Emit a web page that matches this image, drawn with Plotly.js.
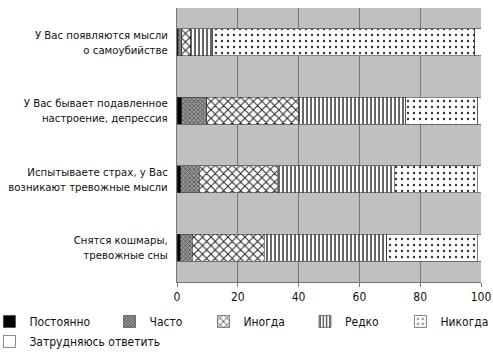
<!DOCTYPE html>
<html>
<head>
<meta charset="utf-8">
<script src="https://cdn.plot.ly/plotly-3.0.1.min.js"></script>
<style>html,body{margin:0;padding:0;background:#fff;}#chart{width:493px;height:355px;}</style>
</head>
<body>
<div id="chart"></div>
<script>
const categories = [
  "У Вас появляются мысли<br>о самоубийстве",
  "У Вас бывает подавленное<br>настроение, депрессия",
  "Испытываете страх, у Вас<br>возникают тревожные мысли",
  "Снятся кошмары,<br>тревожные сны"
];
const seriesNames = ["Постоянно", "Часто", "Иногда", "Редко", "Никогда", "Затрудняюсь ответить"];
const postoyanno = [0.4, 1.5, 1.3, 1.0];
const chasto     = [1.2, 8.3, 6.0, 4.0];
const inogda     = [2.9, 30.2, 25.7, 23.7];
const redko      = [7.3, 35.2, 38.5, 40.3];
const nikogda    = [86.2, 23.8, 27.2, 29.7];
const zatrud     = [2.0, 1.0, 1.3, 1.3];
const xTicks = [0, 20, 40, 60, 80, 100];

const values = [postoyanno, chasto, inogda, redko, nikogda, zatrud];
const styles = [
  {color: "#000000", pattern: {shape: ""}},
  {color: "#ffffff", pattern: {shape: "x", fgcolor: "#444", bgcolor: "#9a9a9a", size: 3, solidity: 0.4}},
  {color: "#ffffff", pattern: {shape: "x", fgcolor: "#222", bgcolor: "#fff", size: 6, solidity: 0.3}},
  {color: "#ffffff", pattern: {shape: "|", fgcolor: "#000", bgcolor: "#fff", size: 4, solidity: 0.3}},
  {color: "#ffffff", pattern: {shape: ".", fgcolor: "#333", bgcolor: "#fff", size: 6, solidity: 0.12}},
  {color: "#ffffff", pattern: {shape: ""}}
];
const legendIds = ["legend", "legend2", "legend3", "legend4", "legend5", "legend6"];

const traces = seriesNames.map((name, i) => ({
  type: "bar",
  orientation: "h",
  name: name,
  y: categories,
  x: values[i],
  width: 0.4,
  legend: legendIds[i],
  marker: {
    color: styles[i].color,
    pattern: styles[i].pattern,
    line: {color: "#333", width: 0.6}
  }
}));

const fontFam = "'Liberation Sans Narrow', 'Arial Narrow', 'DejaVu Sans Condensed', sans-serif";
const legFont = {family: fontFam, size: 12, color: "#111"};

function leg(x, y) {
  return {orientation: "h", x: x, xanchor: "left", y: y, yanchor: "top",
          font: legFont, bgcolor: "rgba(0,0,0,0)", itemwidth: 30};
}

const row1 = -0.091, row2 = -0.164;

const layout = {
  width: 493,
  height: 355,
  barmode: "stack",
  paper_bgcolor: "#ffffff",
  plot_bgcolor: "#c0c0c0",
  font: {family: fontFam, size: 12, color: "#111"},
  margin: {l: 177, r: 12, t: 8, b: 73, autoexpand: false},
  showlegend: true,
  legend:  leg(-0.617, row1),
  legend2: leg(-0.222, row1),
  legend3: leg(0.087, row1),
  legend4: leg(0.421, row1),
  legend5: leg(0.735, row1),
  legend6: leg(-0.617, row2),
  xaxis: {
    range: [0, 100],
    tickvals: xTicks,
    ticktext: xTicks.map(String),
    showgrid: true,
    gridcolor: "#777",
    gridwidth: 1,
    zeroline: false,
    showline: true,
    linecolor: "#777",
    linewidth: 1,
    ticks: "outside",
    ticklen: 4,
    tickcolor: "#777",
    automargin: false,
    fixedrange: true
  },
  yaxis: {
    autorange: "reversed",
    showgrid: false,
    zeroline: false,
    showline: true,
    linecolor: "#777",
    ticks: "",
    ticklabelstandoff: 6,
    tickfont: {family: fontFam, size: 11.3, color: "#111"},
    automargin: false,
    fixedrange: true
  },
  bargap: 0.6
};

Plotly.newPlot("chart", traces, layout, {displayModeBar: false, staticPlot: true});
</script>
</body>
</html>
